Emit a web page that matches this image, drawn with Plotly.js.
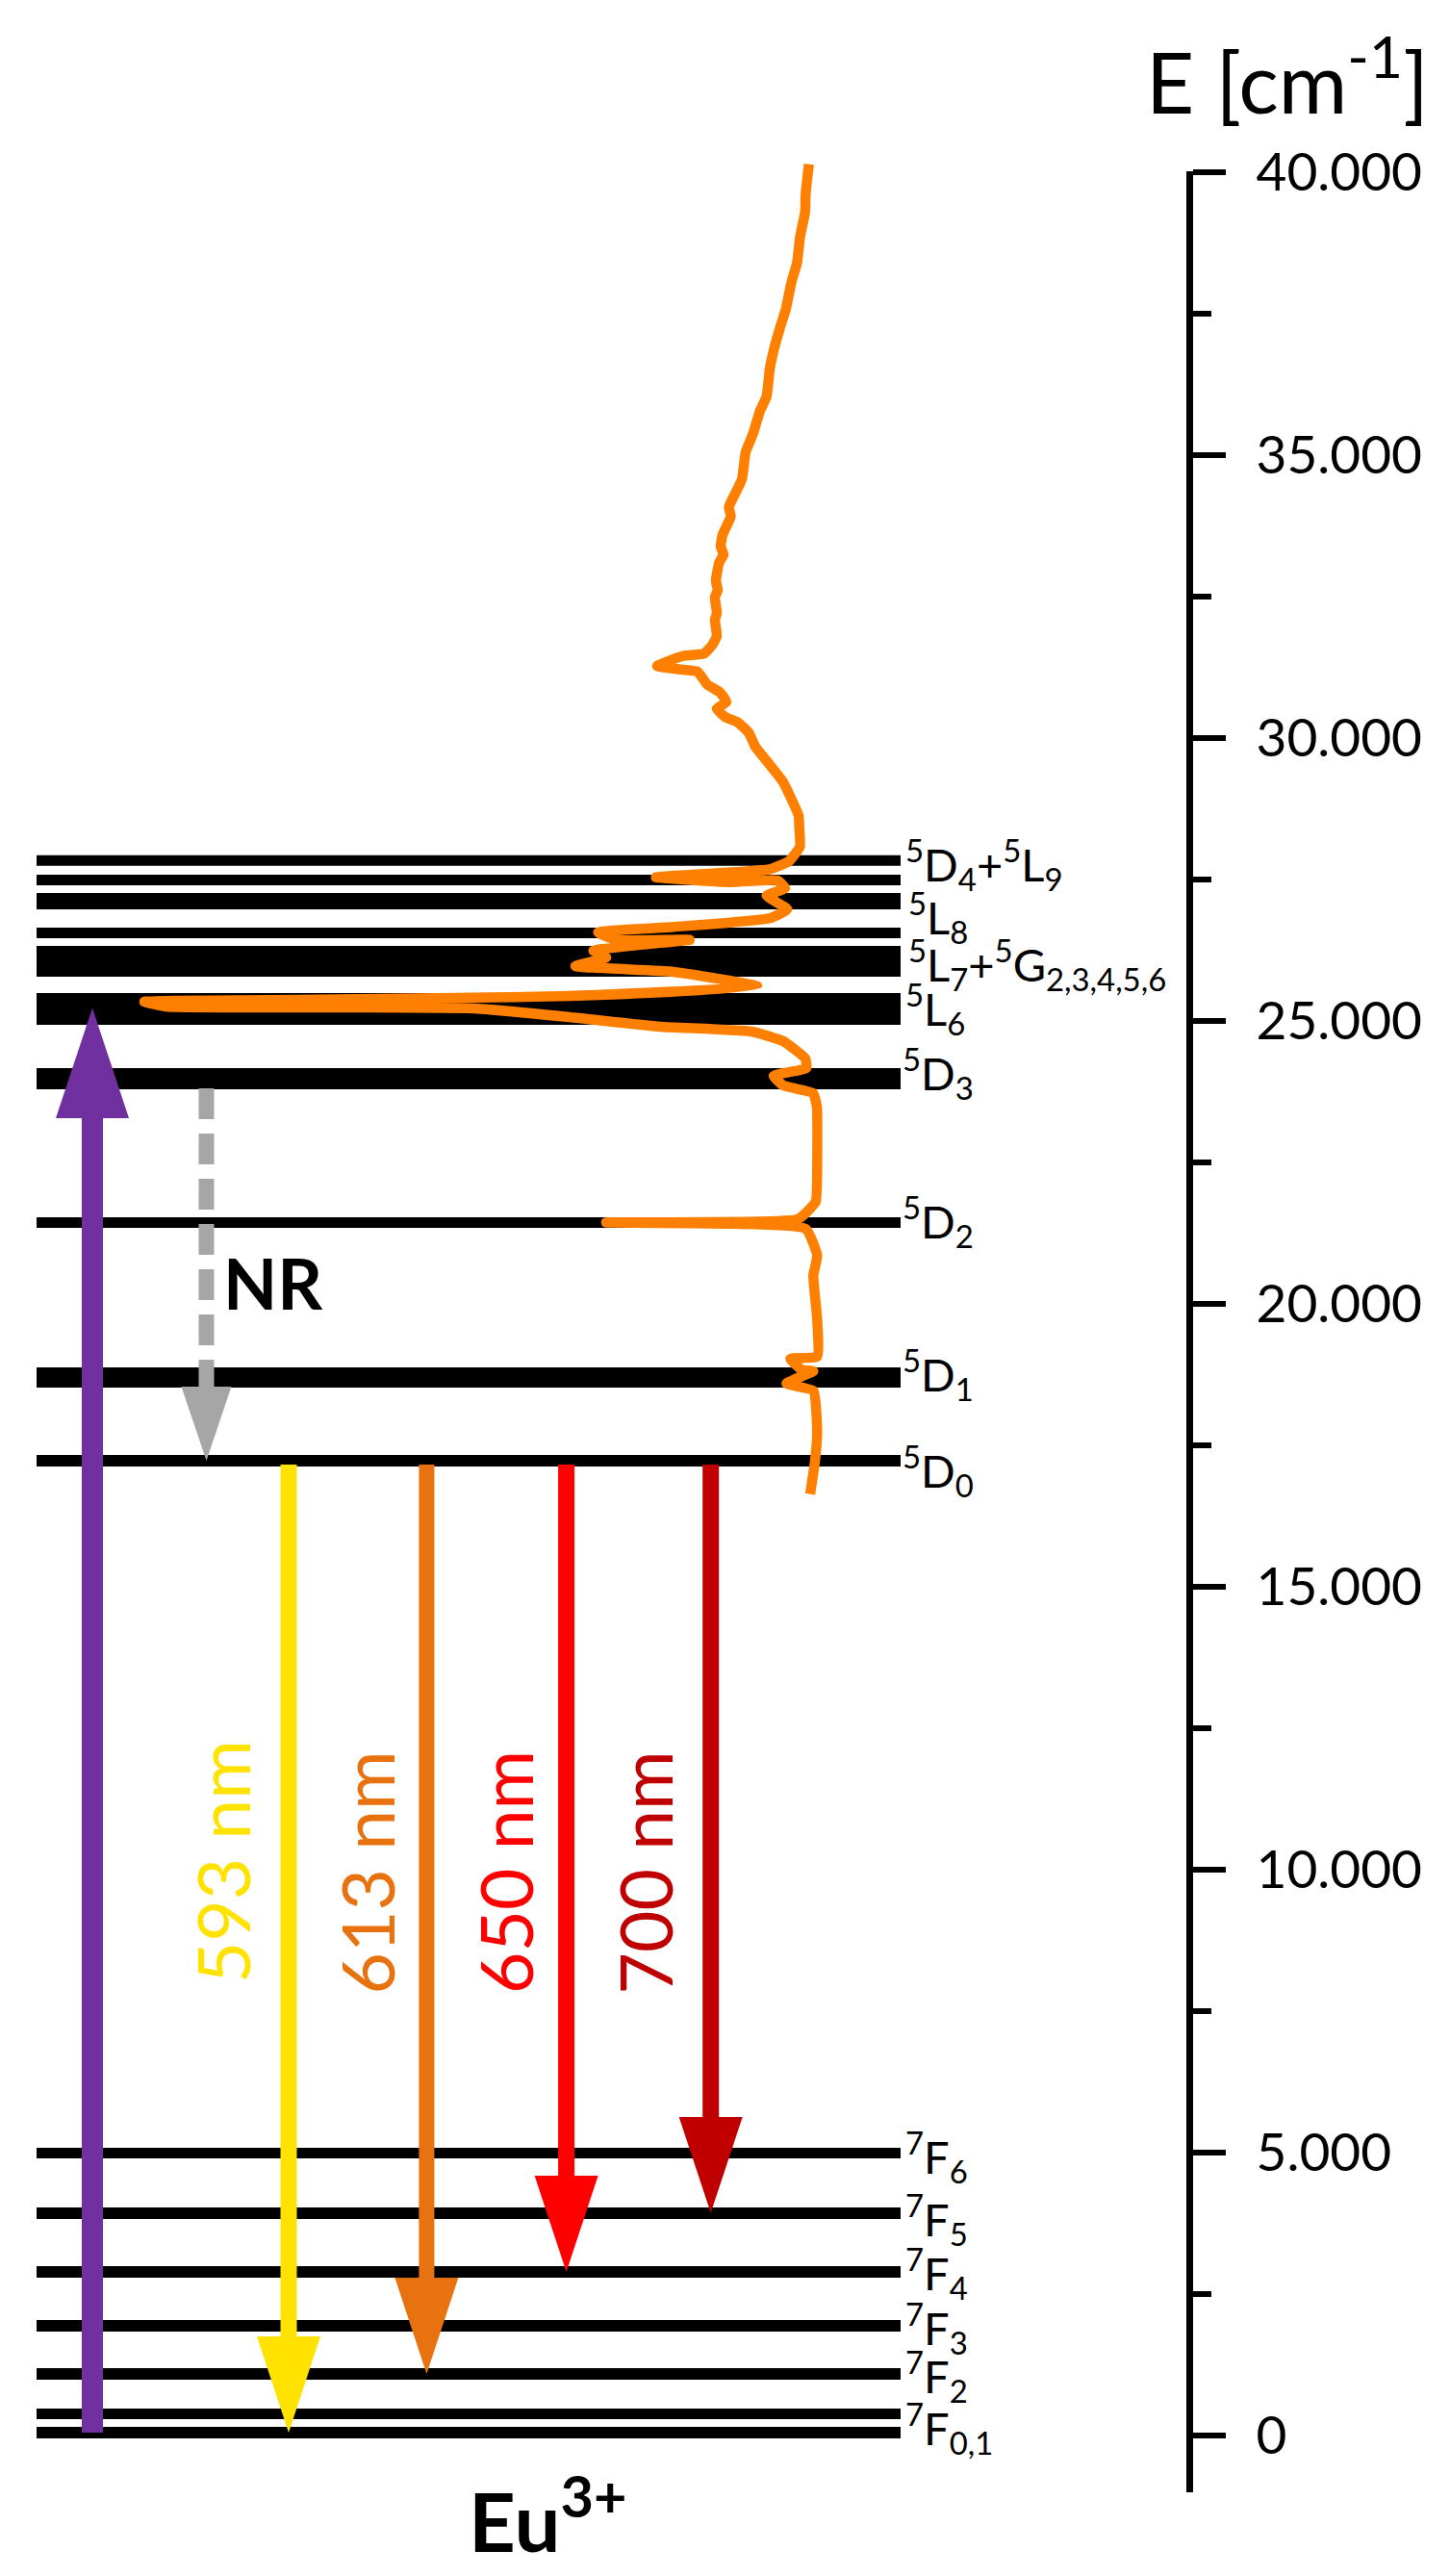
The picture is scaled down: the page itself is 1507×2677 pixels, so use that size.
<!DOCTYPE html>
<html><head><meta charset="utf-8">
<script src="https://cdn.plot.ly/plotly-3.0.1.min.js"></script>
<style>html,body{margin:0;padding:0;background:#fff}</style></head>
<body><div id="chart" style="width:1507px;height:2677px"></div>
<script>
// Energy levels (cm^-1) and their drawn thickness
const levelE = [27834,27492,27117,26556,26055,25213,23980,21437,18699,17228,4992,3929,2891,1939,1088,383,51];
const levelThick = [11,11,17,11,32,33,22,11,21,12,11,12,12,12,12,11,12];
const levelX = [38,936];

// Level labels
const labelText = ['<sup>5</sup>D<sub>4</sub>+<sup>5</sup>L<sub>9</sub>','<sup>5</sup>L<sub>8</sub>','<sup>5</sup>L<sub>7</sub>+<sup>5</sup>G<sub>2,3,4,5,6</sub>','<sup>5</sup>L<sub>6</sub>','<sup>5</sup>D<sub>3</sub>','<sup>5</sup>D<sub>2</sub>','<sup>5</sup>D<sub>1</sub>','<sup>5</sup>D<sub>0</sub>','<sup>7</sup>F<sub>6</sub>','<sup>7</sup>F<sub>5</sub>','<sup>7</sup>F<sub>4</sub>','<sup>7</sup>F<sub>3</sub>','<sup>7</sup>F<sub>2</sub>','<sup>7</sup>F<sub>0,1</sub>'];
const labelX = [939,942,942,939,936,936,936,936,939,939,939,939,939,939];
const labelE = [27760,26835,25995,25215,24080,21450,18750,17050,4920,3820,2860,1890,1040,120];

// Arrows: x position, start energy, head base energy, tip energy
const arrowX = [96,214.5,300,443.4,588.6,738.7];
const arrowFrom = [51,23810,17160,17160,17160,17160];
const arrowBase = [23282,18538,1752,2789,4592,5629];
const arrowTip = [25230,17228,51,1088,2891,3935];
const arrowColor = ['#7030A0','#A6A6A6','#FFE200','#E97210','#FF0000','#C00000'];
const arrowWidth = [22,16,17,16,17,17];
const arrowHalf = [38,26,33,33,33,33];
const arrowDash = ['solid','32px,15px','solid','solid','solid','solid'];

// Absorption curve
const curveX = [840.7,837.3,836.7,831.7,828.3,822.7,816.7,810.7,804,800,796.7,790,782.7,775,771,761.7,757.5,759.5,751,749,752,747.5,744,746,743,745,743,745,740,731.7,710,683,710,725,735,748.3,755,745,753.3,766.7,778.3,785,798.3,813.3,821.7,830,830.7,831.3,820,800,681.7,760,808,816,796.7,818.3,800,700,621.7,640,716.7,616.7,630,598,700,787,592,474,309,186,150,172,365,493,592,686,781,814,837,838,804,814,845,849,849.3,847.7,829.3,630,837.3,849.3,845.3,849.3,849.3,821.4,833.3,845.3,817.4,845.3,849.3,846.9,842];
const curveE = [40142,39613,39286,38878,38393,38067,37579,37254,36847,36521,36033,35788,35381,35057,34569,34242,34082,33917,33592,33388,33242,33104,32778,32614,32494,32208,32087,31803,31638,31492,31451,31273,31208,31174,30948,30808,30638,30516,30378,30279,30092,29847,29564,29238,28952,28628,28419,28079,27823,27682,27540,27454,27483,27347,27216,26973,26815,26662,26565,26434,26434,26242,26123,25970,25868,25612,25442,25408,25374,25357,25340,25255,25238,25221,25068,24898,24813,24643,24337,24167,24031,23861,23725,23486,22500,21803,21500,21439,21327,20851,20502,19728,19070,19031,18835,18810,18592,18463,17725,17204,16639];

// Axis
const tickVals = [0,5000,10000,15000,20000,25000,30000,35000,40000];
const tickText = ['0','5.000','10.000','15.000','20.000','25.000','30.000','35.000','40.000'];
const minorVals = [2500,7500,12500,17500,22500,27500,32500,37500];

// Rotated transition labels
const waveText = ['593 nm','613 nm','650 nm','700 nm'];
const waveX = [231,380.5,525,669.5];
const waveE = [10130,9950,9950,9950];
const waveColor = ['#FFE200','#E97210','#FF0000','#C00000'];

const FONT='Lato';
const traces=[];
levelE.forEach((e,i)=>traces.push({x:levelX,y:[e,e],mode:'lines',line:{color:'#000',width:levelThick[i]},hoverinfo:'skip',showlegend:false}));
arrowX.forEach((x,i)=>{
  traces.push({x:[x,x],y:[arrowFrom[i],arrowBase[i]],mode:'lines',line:{color:arrowColor[i],width:arrowWidth[i],dash:arrowDash[i]},hoverinfo:'skip',showlegend:false});
  traces.push({x:[x-arrowHalf[i],x+arrowHalf[i],x,x-arrowHalf[i]],y:[arrowBase[i],arrowBase[i],arrowTip[i],arrowBase[i]],mode:'lines',fill:'toself',fillcolor:arrowColor[i],line:{width:0,color:arrowColor[i]},hoverinfo:'skip',showlegend:false});
});
traces.push({x:curveX,y:curveE,mode:'lines',line:{color:'#FF8000',width:10.5,shape:'spline',smoothing:0.4},hoverinfo:'skip',showlegend:false});
// Carries the visible energy axis
traces.push({x:tickVals.map(()=>1236),y:tickVals,yaxis:'y2',mode:'markers',marker:{opacity:0,size:1},hoverinfo:'skip',showlegend:false});

const ann=[];
labelText.forEach((t,i)=>ann.push({x:labelX[i],y:labelE[i],xref:'x',yref:'y',text:t,showarrow:false,xanchor:'left',yanchor:'middle',font:{family:FONT,size:47,color:'#000'}}));
waveText.forEach((t,i)=>ann.push({x:waveX[i],y:waveE[i],xref:'x',yref:'y',text:t,showarrow:false,textangle:-90,font:{family:FONT,size:75,color:waveColor[i]}}));
ann.push({x:284,y:20370,xref:'x',yref:'y',text:'<b>NR</b>',showarrow:false,font:{family:FONT,size:73,color:'#000'}});
ann.push({x:569,y:-1400,xref:'x',yref:'y',text:'<b>Eu<sup>3+</sup></b>',showarrow:false,font:{family:FONT,size:85,color:'#000'},yanchor:'middle'});
ann.push({x:1338,y:41700,xref:'x',yref:'y',text:'E [cm<sup>-1</sup>]',showarrow:false,font:{family:FONT,size:87,color:'#000'},yanchor:'middle'});

const yTop=178,yBot=2590,H=2677;
const toE=p=>(2531-p)*5000/294;
const layout={width:1507,height:2677,margin:{l:0,r:0,t:0,b:0,pad:0},paper_bgcolor:'#fff',plot_bgcolor:'rgba(0,0,0,0)',showlegend:false,
 xaxis:{range:[0,1507],domain:[0,1],visible:false,fixedrange:true},
 yaxis:{range:[toE(H),toE(0)],domain:[0,1],visible:false,fixedrange:true},
 yaxis2:{range:[toE(yBot),toE(yTop)],domain:[1-yBot/H,1-yTop/H],anchor:'free',overlaying:false,position:1236/1507,side:'right',showgrid:false,zeroline:false,showline:true,linecolor:'#000',linewidth:6.5,
  ticks:'outside',ticklen:34,tickwidth:6,tickcolor:'#000',tickmode:'array',tickvals:tickVals,ticktext:tickText,ticklabelstandoff:21,tickfont:{family:FONT,size:55,color:'#000'},
  minor:{ticks:'outside',ticklen:19,tickwidth:6,tickcolor:'#000',tickmode:'array',tickvals:minorVals,showgrid:false}},
 annotations:ann};
Plotly.newPlot('chart',traces,layout,{displayModeBar:false,staticPlot:true});
</script></body></html>
